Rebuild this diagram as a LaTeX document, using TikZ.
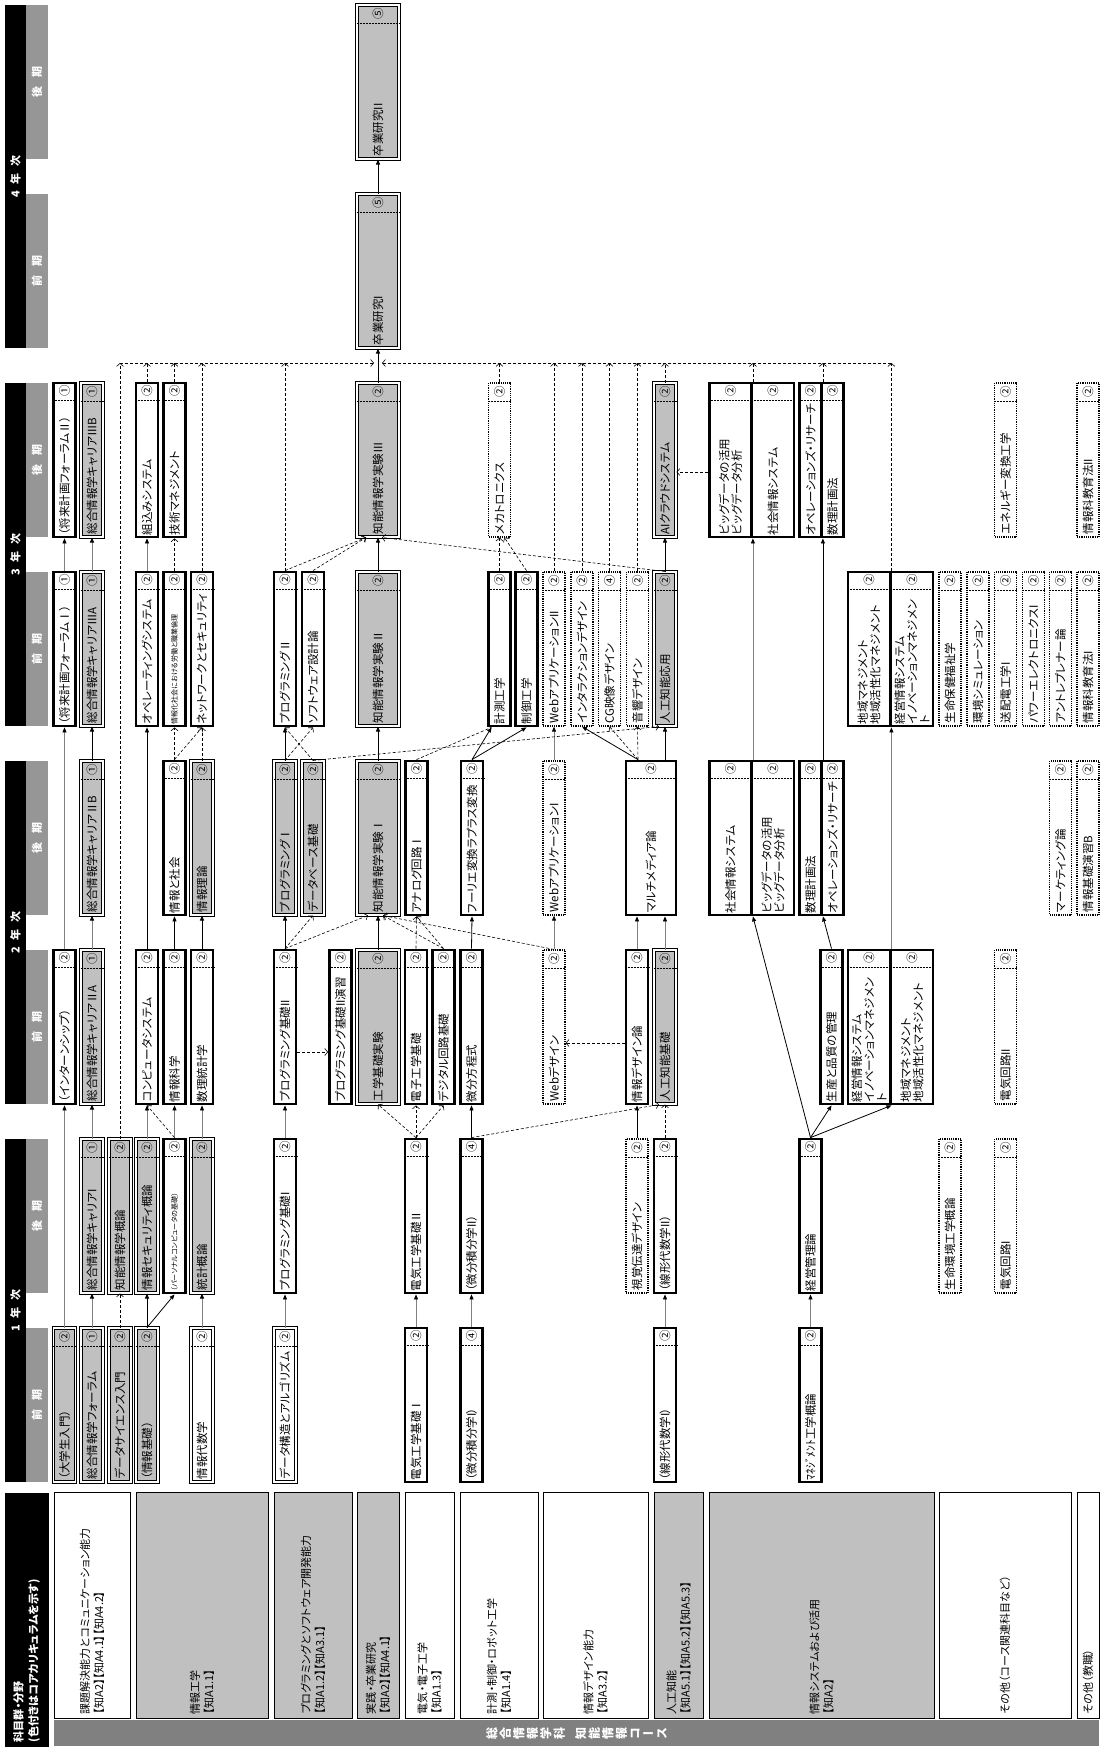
\documentclass[tikz,border=0pt]{standalone}
\usepackage{fontspec}
\setmainfont{Noto Sans CJK JP}[RawFeature=+palt]
\newfontfamily\tatefont{Noto Sans CJK JP}[RawFeature=+vert]
\usetikzlibrary{arrows.meta,calc}
\definecolor{corefill}{HTML}{C0C0C0}
\definecolor{hdrgray}{HTML}{969696}
\definecolor{bargray}{HTML}{808080}
\definecolor{linegray}{HTML}{808080}

% 科目ボックス: [種別]{名前}{中心}{科目名}{単位}
\newcommand{\kamoku}[5][hissu]{%
  \node[box,#1] (#2) at #3 {};
  \node[ktext] (#2t) at (#2.west) {#4};
  \node[credit] (#2c) at ($(#2.east)+(0,9.5)$) {#5};
  \draw[credsep] ($(#2.north east)+(0,19)$) -- ($(#2.south east)+(0,19)$);
}

\begin{document}
\begin{tikzpicture}[x=1pt,y=-1pt,
  box/.style={rotate=90,minimum width=154pt,minimum height=22pt,inner sep=0pt},
  hissu/.style={draw,line width=2.8pt,fill=white},
  core/.style={draw,double,double distance=1.1pt,line width=1pt,fill=corefill},
  corew/.style={draw,double,double distance=1.1pt,line width=1pt,fill=white},
  sentaku/.style={draw,densely dotted,line width=1.2pt,fill=white},
  wide/.style={minimum height=42pt},
  ktext/.style={rotate=90,anchor=west,inner sep=3pt,align=left,font=\fontsize{11.5}{12.5}\selectfont},
  credit/.style={rotate=90,inner sep=0pt,font=\fontsize{11.5}{11.5}\selectfont},
  credsep/.style={line width=0.7pt,dash pattern=on 2pt off 1pt},
  hi/.style={line width=0.8pt,-{Triangle[length=5pt,width=4pt]}},
  hig/.style={hi,draw=linegray,-{Triangle[length=5pt,width=4pt,color=black]}},
  rec/.style={line width=0.6pt,dash pattern=on 3pt off 2pt,-{Straight Barb[length=3pt,width=7pt]}},
  nenji/.style={rotate=90,fill=black,text=white,minimum height=21pt,inner sep=0pt,
    font=\bfseries\fontsize{11}{12}\selectfont},
  gakki/.style={rotate=90,fill=hdrgray,text=white,minimum width=154pt,minimum height=22pt,
    inner sep=0pt,font=\bfseries\fontsize{11}{12}\selectfont},
  bunya/.style={rotate=90,draw,line width=1pt,text width=218pt,inner sep=4pt,align=left,
    font=\fontsize{11}{14}\selectfont}]
  \useasboundingbox (0,0) rectangle (1113,1753);

  % 学年・学期の見出し
  \node[nenji,minimum width=343pt] (n4) at (15.5,176.5) {4\hspace{7pt}年\hspace{7pt}次};
  \node[nenji,minimum width=343pt] (n3) at (15.5,554.5) {3\hspace{7pt}年\hspace{7pt}次};
  \node[nenji,minimum width=343pt] (n2) at (15.5,932.5) {2\hspace{7pt}年\hspace{7pt}次};
  \node[nenji,minimum width=343pt] (n1) at (15.5,1310.5) {1\hspace{7pt}年\hspace{7pt}次};
  \node[gakki] (g8) at (37,82) {後\hspace{9pt}期};
  \node[gakki] (g7) at (37,271) {前\hspace{9pt}期};
  \node[gakki] (g6) at (37,460) {後\hspace{9pt}期};
  \node[gakki] (g5) at (37,649) {前\hspace{9pt}期};
  \node[gakki] (g4) at (37,838) {後\hspace{9pt}期};
  \node[gakki] (g3) at (37,1027) {前\hspace{9pt}期};
  \node[gakki] (g2) at (37,1216) {後\hspace{9pt}期};
  \node[gakki] (g1) at (37,1405) {前\hspace{9pt}期};

  % 科目群・分野
  \node[bunya,fill=black,text=white,line width=0pt,text width=245pt,minimum height=43pt,
    font=\bfseries\fontsize{11}{15}\selectfont] (hdr) at (26.5,1619.5)
    {科目群・分野\\(色付きはコアカリキュラムを示す)};
  \node[bunya,minimum height=76pt] (c1) at (92,1605)
    {課題解決能力とコミュニケーション能力\\【知A2】【知A4.1】【知A4.2】};
  \node[bunya,fill=corefill,minimum height=132pt] (c2) at (202,1605) {情報工学\\【知A1.1】};
  \node[bunya,fill=corefill,minimum height=78pt] (c3) at (313,1605)
    {プログラミングとソフトウェア開発能力\\【知A1.2】【知A3.1】};
  \node[bunya,fill=corefill,minimum height=42pt] (c4) at (378,1605) {実践・卒業研究\\【知A2】【知A4.1】};
  \node[bunya,minimum height=49pt] (c5) at (429.5,1605) {電気・電子工学\\【知A1.3】};
  \node[bunya,minimum height=78pt] (c6) at (499,1605) {計測・制御・ロボット工学\\【知A1.4】};
  \node[bunya,minimum height=105pt] (c7) at (595.5,1605) {情報デザイン能力\\【知A3.2】};
  \node[bunya,fill=corefill,minimum height=49pt] (c8) at (678.5,1605)
    {人工知能\\【知A5.1】【知A5.2】【知A5.3】};
  \node[bunya,fill=corefill,minimum height=225pt] (c9) at (821.5,1605) {情報システムおよび活用\\【知A2】};
  \node[bunya,minimum height=132pt] (c10) at (1005,1605) {その他（コース関連科目など）};
  \node[bunya,minimum height=22pt] (c11) at (1088,1605) {その他（教職）};
  \node[rotate=90,fill=bargray,text=white,minimum width=26pt,minimum height=1045pt,inner sep=0pt,
    align=center,font=\tatefont\bfseries\fontsize{12}{13.5}\selectfont] (obi) at (576.5,1733)
    {総\\合\\情\\報\\学\\科\\[8pt]知\\能\\情\\報\\コ\\ー\\ス};

  % 1年前期
  \kamoku[core]{s1a}{(64.5,1405)}{（大学生入門）}{②}
  \kamoku[core]{s1b}{(92,1405)}{総合情報学フォーラム}{①}
  \kamoku[core]{s1c}{(120,1405)}{データサイエンス入門}{②}
  \kamoku[core]{s1d}{(147,1405)}{（情報基礎）}{②}
  \kamoku[corew]{s1f}{(202,1405)}{情報代数学}{②}
  \kamoku[corew]{s1g}{(285,1405)}{データ構造とアルゴリズム}{②}
  \kamoku{s1j}{(416,1405)}{電気工学基礎Ⅰ}{②}
  \kamoku{s1l}{(471.5,1405)}{（微分積分学I）}{④}
  \kamoku{s1o}{(665,1405)}{（線形代数学I）}{②}
  \kamoku{s1p}{(810.5,1405)}{ﾏﾈｼﾞﾒﾝﾄ工学概論}{②}

  % 1年後期
  \kamoku[core]{s2b}{(92,1216)}{総合情報学キャリアI}{①}
  \kamoku[core]{s2c}{(120,1216)}{知能情報学概論}{②}
  \kamoku[core]{s2d}{(147,1216)}{情報セキュリティ概論}{②}
  \kamoku{s2e}{(174.5,1216)}{{\fontsize{7}{8}\selectfont （パーソナルコンピュータの基礎）}}{②}
  \kamoku[core]{s2f}{(202,1216)}{統計概論}{②}
  \kamoku{s2g}{(285,1216)}{プログラミング基礎I}{②}
  \kamoku{s2j}{(416,1216)}{電気工学基礎Ⅱ}{②}
  \kamoku{s2l}{(471.5,1216)}{（微分積分学II）}{④}
  \kamoku[sentaku]{s2n}{(637,1216)}{視覚伝達デザイン}{②}
  \kamoku{s2o}{(665,1216)}{（線形代数学II）}{②}
  \kamoku{s2p}{(810.5,1216)}{経営管理論}{②}
  \kamoku[sentaku]{s2r}{(950,1216)}{生命環境工学概論}{②}
  \kamoku[sentaku]{s2t}{(1005.5,1216)}{電気回路I}{②}

  % 2年前期
  \kamoku{s3a}{(64.5,1027)}{（インターンシップ）}{②}
  \kamoku[core]{s3b}{(92,1027)}{総合情報学キャリアⅡA}{①}
  \kamoku{s3d}{(147,1027)}{コンピュータシステム}{②}
  \kamoku{s3e}{(174.5,1027)}{情報科学}{②}
  \kamoku{s3f}{(202,1027)}{数理統計学}{②}
  \kamoku{s3g}{(285,1027)}{プログラミング基礎II}{②}
  \kamoku{s3h}{(340.5,1027)}{プログラミング基礎II演習}{②}
  \kamoku[core,wide]{s3i}{(378,1027)}{工学基礎実験}{②}
  \kamoku{s3j}{(416,1027)}{電子工学基礎}{②}
  \kamoku{s3k}{(443.5,1027)}{デジタル回路基礎}{②}
  \kamoku{s3l}{(471.5,1027)}{微分方程式}{②}
  \kamoku[sentaku]{s3m}{(554,1027)}{Webデザイン}{②}
  \kamoku{s3n}{(637,1027)}{情報デザイン論}{②}
  \kamoku[core]{s3o}{(665,1027)}{人工知能基礎}{②}
  \kamoku{s3q}{(831.5,1027)}{生産と品質の管理}{②}
  \kamoku[hissu,wide]{s3kei}{(869,1027)}{経営情報システム\\イノベーションマネジメン\\ト}{②}
  \kamoku[hissu,wide]{s3chi}{(912,1027)}{地域マネジメント\\地域活性化マネジメント}{②}
  \kamoku[sentaku]{s3t}{(1005.5,1027)}{電気回路II}{②}

  % 2年後期
  \kamoku[core]{s4b}{(92,838)}{総合情報学キャリアⅡB}{①}
  \kamoku{s4e}{(174.5,838)}{情報と社会}{②}
  \kamoku[core]{s4f}{(202,838)}{情報理論}{②}
  \kamoku[core]{s4g}{(285,838)}{プログラミングⅠ}{②}
  \kamoku[core]{s4g2}{(313,838)}{データベース基礎}{②}
  \kamoku[core,wide]{s4i}{(378,838)}{知能情報学実験Ⅰ}{②}
  \kamoku{s4j}{(416.5,838)}{アナログ回路Ⅰ}{②}
  \kamoku{s4l}{(472,838)}{フーリエ変換ラプラス変換}{②}
  \kamoku[sentaku]{s4m}{(554,838)}{WebアプリケーションI}{②}
  \kamoku[hissu,minimum height=50pt]{s4mm}{(651,838)}{マルチメディア論}{②}
  \kamoku[hissu,wide]{s4sha}{(730.5,838)}{社会情報システム}{②}
  \kamoku[hissu,wide]{s4big}{(773,838)}{ビッグデータの活用\\ビッグデータ分析}{②}
  \kamoku{s4suri}{(810.5,838)}{数理計画法}{②}
  \kamoku{s4ope}{(832.5,838)}{オペレーションズ・リサーチ}{②}
  \kamoku[sentaku]{s4v}{(1060.5,838)}{マーケティング論}{②}
  \kamoku[sentaku]{s4w}{(1088,838)}{情報基礎演習B}{②}

  % 3年前期
  \kamoku{s5a}{(64.5,649)}{（将来計画フォーラムⅠ）}{①}
  \kamoku[core]{s5b}{(92,649)}{総合情報学キャリアⅢA}{①}
  \kamoku{s5d}{(147,649)}{オペレーティングシステム}{②}
  \kamoku{s5e}{(174.5,649)}{{\fontsize{7}{8}\selectfont 情報化社会における労働と職業倫理}}{②}
  \kamoku{s5f}{(202,649)}{ネットワークとセキュリティ}{②}
  \kamoku{s5g}{(285,649)}{プログラミングⅡ}{②}
  \kamoku{s5g2}{(313,649)}{ソフトウェア設計論}{②}
  \kamoku[core,wide]{s5i}{(378,649)}{知能情報学実験Ⅱ}{②}
  \kamoku{s5kei}{(499.5,649)}{計測工学}{②}
  \kamoku{s5sei}{(526.5,649)}{制御工学}{②}
  \kamoku[sentaku]{s5web}{(554,649)}{WebアプリケーションII}{②}
  \kamoku[sentaku]{s5int}{(582,649)}{インタラクションデザイン}{②}
  \kamoku[sentaku]{s5cg}{(609.5,649)}{CG映像デザイン}{④}
  \kamoku[sentaku]{s5onk}{(637.5,649)}{音響デザイン}{②}
  \kamoku[core]{s5o}{(665,649)}{人工知能応用}{②}
  \kamoku[hissu,wide]{s5chi}{(869,649)}{地域マネジメント\\地域活性化マネジメント}{②}
  \kamoku[hissu,wide]{s5kks}{(912,649)}{経営情報システム\\イノベーションマネジメン\\ト}{②}
  \kamoku[sentaku]{s5r}{(950,649)}{生命保健福祉学}{②}
  \kamoku[sentaku]{s5s}{(978,649)}{環境シミュレーション}{②}
  \kamoku[sentaku]{s5t}{(1005.5,649)}{送配電工学I}{②}
  \kamoku[sentaku]{s5u}{(1033.5,649)}{パワーエレクトロニクスI}{②}
  \kamoku[sentaku]{s5v}{(1060.5,649)}{アントレプレナー論}{②}
  \kamoku[sentaku]{s5w}{(1088,649)}{情報科教育法I}{②}

  % 3年後期
  \kamoku{s6a}{(64.5,460)}{（将来計画フォーラムⅡ）}{①}
  \kamoku[core]{s6b}{(92,460)}{総合情報学キャリアⅢB}{①}
  \kamoku{s6d}{(147,460)}{組込みシステム}{②}
  \kamoku{s6e}{(174.5,460)}{技術マネジメント}{②}
  \kamoku[core,wide]{s6i}{(378,460)}{知能情報学実験Ⅲ}{②}
  \kamoku[sentaku]{s6mec}{(499.5,460)}{メカトロニクス}{②}
  \kamoku[core]{s6ai}{(665,460)}{AIクラウドシステム}{②}
  \kamoku[hissu,wide]{s6big}{(730.5,460)}{ビッグデータの活用\\ビッグデータ分析}{②}
  \kamoku[hissu,wide]{s6sha}{(773,460)}{社会情報システム}{②}
  \kamoku{s6ope}{(810.5,460)}{オペレーションズ・リサーチ}{②}
  \kamoku{s6suri}{(832.5,460)}{数理計画法}{②}
  \kamoku[sentaku]{s6t}{(1005.5,460)}{エネルギー変換工学}{②}
  \kamoku[sentaku]{s6w}{(1088,460)}{情報科教育法II}{②}

  % 4年
  \kamoku[core,wide]{s7}{(378,271)}{卒業研究I}{⑤}
  \kamoku[core,wide]{s8}{(378,82)}{卒業研究II}{⑤}

  % 実線の矢印
  \draw[hig] (s1a.east) -- (s3a.west);
  \draw[hig] (s3a.east) -- (s5a.west);
  \draw[hig] (s5a.east) -- (s6a.west);
  \draw[hig] (s1b.east) -- (s2b.west);
  \draw[hig] (s2b.east) -- (s3b.west);
  \draw[hig] (s3b.east) -- (s4b.west);
  \draw[hi] (s4b.east) -- (s5b.west);
  \draw[hig] (s5b.east) -- (s6b.west);
  \draw[hi] (s1d.east) -- (s2d.west);
  \draw[hi] (s1d.east) -- (s2e.west);
  \draw[hig] (s2d.east) -- (s3d.west);
  \draw[hig] (s2e.east) -- (s3e.west);
  \draw[hig] (s1f.east) -- (s2f.west);
  \draw[hig] (s2f.east) -- (s3f.west);
  \draw[hi] (s3d.east) -- (s5d.west);
  \draw[hig] (s5d.east) -- (s6d.west);
  \draw[hi] (s3e.east) -- (s4e.west);
  \draw[hi] (s3f.east) -- (s4f.west);
  \draw[hig] (s1g.east) -- (s2g.west);
  \draw[hig] (s2g.east) -- (s3g.west);
  \draw[hi] (s3g.east) -- (s4g.west);
  \draw[hi] (s4g.east) -- (s5g.west);
  \draw[hi] (s3i.east) -- (s4i.west);
  \draw[hi] (s4i.east) -- (s5i.west);
  \draw[hi] (s5i.east) -- (s6i.west);
  \draw[hi] (s6i.east) -- (s7.west);
  \draw[hi] (s7.east) -- (s8.west);
  \draw[hig] (s1j.east) -- (s2j.west);
  \draw[hig] (s1l.east) -- (s2l.west);
  \draw[hi] (s2l.east) -- (s3l.west);
  \draw[hi] (s3l.east) -- (s4l.west);
  \draw[hi] (s4l.east) -- ($(s5kei.west)+(-8,0)$);
  \draw[hi] (s4l.east) -- (s5sei.west);
  \draw[hig] (s1o.east) -- (s2o.west);
  \draw[hi] (s2n.east) -- (s3n.west);
  \draw[hig] (s3n.east) -- (s3n.east |- s4mm.west);
  \draw[hig] (s3o.east) -- (s3o.east |- s4mm.west);
  \draw[hig] (s3m.east) -- (s4m.west);
  \draw[hig] (s4m.east) -- (s5web.west);
  \draw[hi] ($(s4mm.east)+(-13,0)$) -- (s5int.west);
  \draw[hi] (s4mm.east -| s5o.west) -- (s5o.west);
  \draw[hi] (s5o.east) -- (s6ai.west);
  \draw[hig] (s1p.east) -- (s2p.west);
  \draw[hi] (s2p.east) -- (s3q.west);
  \draw[hi] (s2p.east) -- (s3kei.south west);
  \draw[hi] (s2p.east) -- (s4sha.south west);
  \draw[hi] (s3q.east) -- (s4suri.south west);
  \draw[hig] (s3kei.south east) -- (s5chi.south west);
  \draw[hig] (s4sha.south east) -- (s6big.south west);
  \draw[hi] (s4suri.south east) -- (s6ope.south west);

  % 破線の矢印
  \draw[rec] (s1c.east) -- (s2c.west);
  \draw[rec] (s2e.east) -- (s3d.west);
  \draw[rec] ($(s3g.south)+(0,25)$) -- ($(s3h.north)+(0,25)$);
  \draw[rec] (s3g.east) -- (s4g2.west);
  \draw[rec] (s3g.east) -- ($(s4i.west)+(-10,0)$);
  \draw[rec] (s4e.east) -- (s5e.west);
  \draw[rec] (s4e.east) -- (s5f.west);
  \draw[rec] (s4f.east) -- (s5f.west);
  \draw[rec] (s5e.east) -- (s6e.west);
  \draw[rec] (s4g.east) -- (s5g2.west);
  \draw[rec] (s4g2.east) -- (s5g.west);
  \draw[rec] (s4g2.east) -- ($(s5o.west)+(-6,0)$);
  \draw[rec] (s5g.east) -- ($(s6i.west)+(-12,0)$);
  \draw[rec] (s5g2.east) -- ($(s6i.west)+(-12,0)$);
  \draw[rec] (s5o.east) -- ($(s6i.west)+(4,0)$);
  \draw[rec] (s5kei.east) -- (s6mec.west);
  \draw[rec] (s5sei.east) -- ($(s6mec.west)+(5,0)$);
  \draw[rec] (s4j.east) -- ($(s5kei.west)+(-8,0)$);
  \draw[rec] ($(s4mm.east)+(-13,0)$) -- (s5cg.west);
  \draw[rec] ($(s4mm.east)+(-13,0)$) -- (s5onk.west);
  \draw[rec] ($(s6big.north)+(0,12)$) -- ($(s6ai.south)+(0,12)$);
  \draw[rec] ($(s3n.north)+(0,16)$) -- ($(s3m.south)+(0,16)$);
  \draw[rec] (s2j.east) -- (s3i.west);
  \draw[rec] (s2j.east) -- (s3j.west);
  \draw[rec] (s2j.east) -- (s3k.west);
  \draw[rec] (s3j.east) -- (s4j.west);
  \draw[rec] (s3k.east) -- (s4j.west);
  \draw[rec] (s3k.east) -- ($(s4i.west)+(5,0)$);
  \draw[rec] (s3m.east) -- ($(s4i.west)+(5,0)$);
  \draw[rec] (s2l.east) -- ($(s3o.west)+(-6,0)$);
  \draw[rec] (s2o.east) -- (s3o.west);

  % 卒業研究へ集まる破線
  \coordinate (bus) at (378,363);
  \foreach \p in {s2c.east,s6d.east,s6e.east,s5f.east,s5g.east,s6mec.east,s5web.east,
      s5int.east,s5cg.east,s5onk.east,s6ai.east,s6big.south east,s6ope.south east,s5chi.south east}
    \draw[rec] (\p) -- (\p |- bus);
  \draw[rec] (s2c.east |- bus) -- ($(bus)+(-4,0)$);
  \draw[rec] (s5chi.south east |- bus) -- ($(bus)+(4,0)$);
\end{tikzpicture}
\end{document}
